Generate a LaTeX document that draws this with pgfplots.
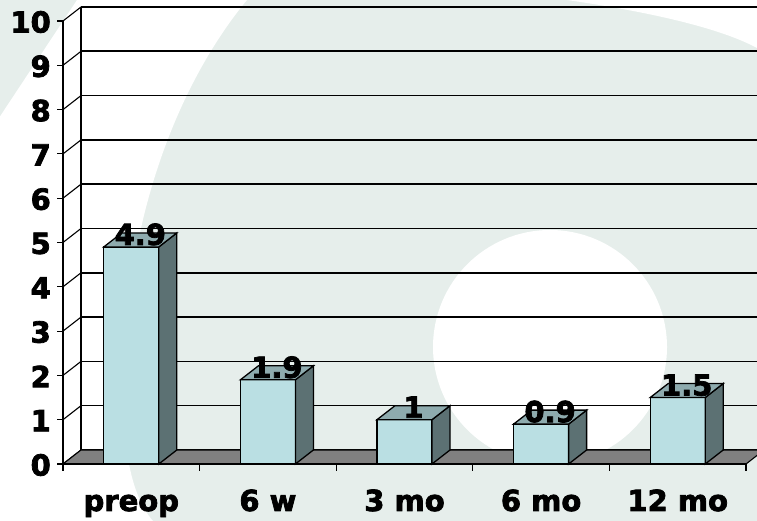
\documentclass[border=0pt]{standalone}
\usepackage{pgfplots}
\pgfplotsset{compat=1.18}
\usepackage{fontspec}
\setmainfont{DejaVu Sans}[BoldFeatures={FakeBold=2.6}]
\definecolor{bgc}{RGB}{230,238,235}
\definecolor{frontc}{RGB}{186,223,227}
\definecolor{topc}{RGB}{142,171,174}
\definecolor{sidec}{RGB}{92,113,115}
\definecolor{floorc}{RGB}{128,128,128}
\newcommand\cf{\fontsize{29}{32}\selectfont\bfseries}
% top and side faces of a 3D column; the mark sits at the top centre of the front face
\pgfdeclareplotmark{box3d}{%
  \pgfmathsetlengthmacro\hb{-\barval*44.3pt}%
  \pgfmathsetlengthmacro\hc{14pt-\barval*44.3pt}%
  \pgfsetstrokecolor{black}%
  \pgfpathmoveto{\pgfqpoint{27.5pt}{0pt}}%
  \pgfpathlineto{\pgfqpoint{45.5pt}{14pt}}%
  \pgfpathlineto{\pgfqpoint{45.5pt}{\hc}}%
  \pgfpathlineto{\pgfqpoint{27.5pt}{\hb}}%
  \pgfpathclose
  \pgfsetfillcolor{sidec}%
  \pgfusepath{fill,stroke}%
  \pgfpathmoveto{\pgfqpoint{-27.5pt}{0pt}}%
  \pgfpathlineto{\pgfqpoint{27.5pt}{0pt}}%
  \pgfpathlineto{\pgfqpoint{45.5pt}{14pt}}%
  \pgfpathlineto{\pgfqpoint{-9.5pt}{14pt}}%
  \pgfpathclose
  \pgfsetfillcolor{topc}%
  \pgfusepath{fill,stroke}%
}
\pgfplotstableread{
x    v
0.5  4.9
1.5  1.9
2.5  1
3.5  0.9
4.5  1.5
}\datatable
\begin{document}
\begin{tikzpicture}
\useasboundingbox (0,0) rectangle (757pt,521pt);
\clip (0,0) rectangle (757pt,521pt);
\fill[bgc] (0,0) rectangle (757pt,521pt);
\begin{scope}[shift={(0pt,521pt)}, x=1pt, y=-1pt]
  \fill[white] (77,0) -- (247,0) .. controls (185,75) and (130,200) .. (124,360)
     .. controls (120,440) and (130,495) .. (153,521) -- (-5,521)
     -- (-5,124) -- cycle;
  \fill[white] (567,0) .. controls (650,12) and (720,28) .. (757,48) -- (757,0) -- cycle;
  \fill[white] (550,347) circle[radius=117];
\end{scope}
\begin{axis}[
  at={(63pt,57pt)}, anchor=south west,
  x=136.6pt, y=44.3pt,
  xmin=0, xmax=5, ymin=0, ymax=10,
  clip=false,
  axis line style={draw=none},
  major tick length=0pt,
  xtick={0.5,1.5,2.5,3.5,4.5},
  xticklabels={preop,6 w,3 mo,6 mo,12 mo},
  ytick={0,1,...,10},
  ticklabel style={font=\cf, inner sep=0pt},
  xticklabel style={anchor=base, yshift=-47pt},
  yticklabel style={anchor=east, xshift=-12pt, yshift=-1pt},
  /pgf/number format/assume math mode=true,
]
% back wall grid, side wall and floor
\pgfplotsinvokeforeach{0,...,10}{
  \draw[line width=1.6pt, black] ([shift={(18pt,14pt)}]axis cs:0,#1) -- ([shift={(18pt,14pt)}]axis cs:5.2,#1);
  \draw[line width=1.1pt] (axis cs:0,#1) -- ([shift={(18pt,14pt)}]axis cs:0,#1);
  \draw[line width=1.1pt] (axis cs:0,#1) -- ([shift={(-6pt,0pt)}]axis cs:0,#1);
}
\draw[line width=1.2pt] (axis cs:0,0) -- (axis cs:0,10);
\draw[line width=1.2pt] ([shift={(18pt,14pt)}]axis cs:0,0) -- ([shift={(18pt,14pt)}]axis cs:0,10);
\draw[line width=1.1pt, fill=floorc] (axis cs:0,0) -- (axis cs:5,0)
   -- ([shift={(18pt,14pt)}]axis cs:5,0) -- ([shift={(18pt,14pt)}]axis cs:0,0) -- cycle;
% columns
\addplot[ybar, bar width=55pt, fill=frontc, draw=black, line width=1.3pt] table[x=x, y=v] {\datatable};
\addplot[scatter, only marks, mark=box3d, line width=1.3pt,
  visualization depends on={rawy \as \barval}] table[x=x, y=v] {\datatable};
\addplot[draw=none, nodes near coords,
  every node near coord/.append style={font=\cf, anchor=base, xshift=9pt, yshift=2pt, inner sep=0pt, text=black}]
  table[x=x, y=v] {\datatable};
% front axis line and ticks
\draw[line width=1.4pt] (axis cs:0,0) -- (axis cs:5,0);
\pgfplotsinvokeforeach{0,...,5}{
  \draw[line width=1.1pt] (axis cs:#1,0) -- ([shift={(0pt,-7pt)}]axis cs:#1,0);
}
\end{axis}
\end{tikzpicture}
\end{document}
